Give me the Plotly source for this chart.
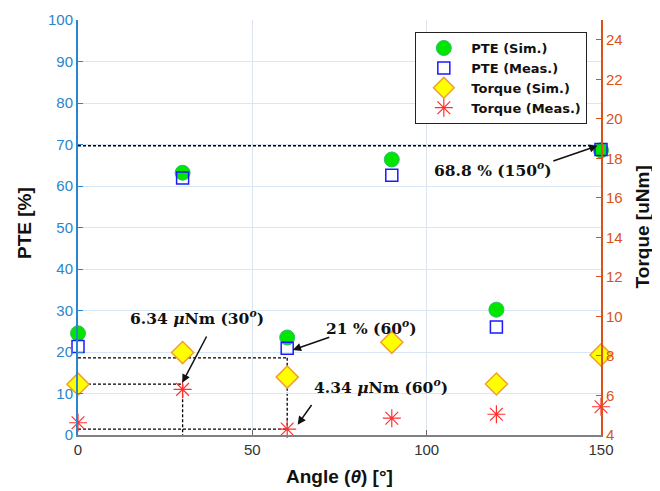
import plotly.graph_objects as go

angles = [0, 30, 60, 90, 120, 150]
pte_sim = [24.5, 63.2, 23.5, 66.4, 30.2, 68.6]
pte_meas = [21.3, 61.9, 20.9, 62.6, 26.0, 68.8]
torque_sim = [6.57, 8.17, 6.93, 8.69, 6.58, 8.05]
torque_meas = [4.62, 6.31, 4.30, 4.85, 5.05, 5.43]

x_ticks = [0, 50, 100, 150]
pte_ticks = [0, 10, 20, 30, 40, 50, 60, 70, 80, 90, 100]
torque_ticks = [4, 6, 8, 10, 12, 14, 16, 18, 20, 22, 24]

# guide lines (x0, x1, y0, y1, axis)
guides = [
    (0, 147.5, 69.7, 69.7, "y"),
    (0, 60, 18.6, 18.6, "y"),
    (60, 60, 7.91, 4.3, "y2"),
    (0, 30, 6.57, 6.57, "y2"),
    (30, 30, 6.57, 4.0, "y2"),
    (0, 60, 4.3, 4.3, "y2"),
]

# annotations: text, text position, arrow tail, arrow head (PTE axis coords)
labels = [
    ("<b>68.8 % (150<sup><i>o</i></sup>)</b>", (119.1, 63.9), (135.9, 65.9), (149.0, 69.7)),
    ("<b>21 % (60<sup><i>o</i></sup>)</b>", (84.1, 25.8), (72.5, 23.7), (61.6, 20.5)),
    ("<b>6.34 <i>μ</i>Nm (30<sup><i>o</i></sup>)</b>", (34.0, 28.2), (37.1, 24.1), (29.9, 12.6)),
    ("<b>4.34 <i>μ</i>Nm (60<sup><i>o</i></sup>)</b>", (86.9, 11.8), (67.3, 7.6), (63.0, 2.5)),
]

blue = "#2a85cc"
orange = "#D95319"

fig = go.Figure()
fig.add_trace(go.Scatter(
    x=angles, y=pte_sim, mode="markers", name="<b>PTE (Sim.)</b>",
    marker=dict(symbol="circle", size=15, color="#00e600", line=dict(color="#33bb66", width=1)),
    cliponaxis=False))
fig.add_trace(go.Scatter(
    x=angles, y=pte_meas, mode="markers", name="<b>PTE (Meas.)</b>",
    marker=dict(symbol="square-open", size=12, color="#1a1aff", line=dict(width=1.5)),
    cliponaxis=False))
fig.add_trace(go.Scatter(
    x=angles, y=torque_sim, mode="markers", name="<b>Torque (Sim.)</b>", yaxis="y2",
    marker=dict(symbol="diamond", size=17, color="#ffff00", line=dict(color="#f0a030", width=1.5)),
    cliponaxis=False))
fig.add_trace(go.Scatter(
    x=angles, y=torque_meas, mode="markers", name="<b>Torque (Meas.)</b>", yaxis="y2",
    marker=dict(symbol="asterisk-open", size=15, color="#ff3030", line=dict(color="#ff3030", width=1.2)),
    cliponaxis=False))

for x0, x1, y0, y1, ax in guides:
    fig.add_shape(type="line", xref="x", yref=ax, x0=x0, x1=x1, y0=y0, y1=y1,
                  line=dict(color="black", width=1.3, dash="3px,2px"), layer="below")

for txt, (tx, ty), (ax_, ay_), (hx, hy) in labels:
    fig.add_annotation(x=tx, y=ty, xref="x", yref="y", text=txt, showarrow=False,
                       xanchor="center", yanchor="middle",
                       font=dict(family="DejaVu Serif", size=15.5, color="#111111"))
    fig.add_annotation(x=hx, y=hy, xref="x", yref="y", ax=ax_, ay=ay_, axref="x", ayref="y",
                       text="", showarrow=True, arrowhead=2, arrowsize=1.1, arrowwidth=1.5,
                       arrowcolor="#111111")

# axis titles
title_font = dict(family="Liberation Sans, Arial", size=19, color="#111111")
fig.add_annotation(x=-0.1023, y=0.512, xref="paper", yref="paper", text="<b>PTE [%]</b>",
                   textangle=-90, showarrow=False, xanchor="center", yanchor="middle", font=title_font)
fig.add_annotation(x=1.079, y=0.501, xref="paper", yref="paper", text="<b>Torque [uNm]</b>",
                   textangle=-90, showarrow=False, xanchor="center", yanchor="middle", font=title_font)
fig.add_annotation(x=0.5, y=-0.099, xref="paper", yref="paper", text="<b>Angle (<i>θ</i>) [°]</b>",
                   showarrow=False, xanchor="center", yanchor="middle", font=title_font)

fig.update_layout(
    width=652, height=483,
    margin=dict(l=70, r=59, t=12, b=56),
    paper_bgcolor="white", plot_bgcolor="white",
    font=dict(family="Liberation Sans, Arial", size=15),
    showlegend=True,
    legend=dict(x=0.645, y=0.971, xanchor="left", yanchor="top",
                bgcolor="white", bordercolor="#222222", borderwidth=1,
                font=dict(family="DejaVu Sans", size=13, color="#111111"),
                itemwidth=45, tracegroupgap=0),
    xaxis=dict(range=[0, 150], tickvals=x_ticks, ticks="inside", ticklen=5, tickcolor="#666666",
               showline=True, linecolor="#808080", linewidth=2, zeroline=False,
               showgrid=True, gridcolor="#dde4ec", gridwidth=1, automargin=False,
               tickfont=dict(size=15, color="#333333")),
    yaxis=dict(range=[0, 100], tickvals=pte_ticks, ticks="inside", ticklen=5, tickcolor=blue,
               showline=True, linecolor=blue, linewidth=2, zeroline=False,
               showgrid=True, gridcolor="#d8e7f3", gridwidth=1, automargin=False,
               tickfont=dict(size=15, color=blue)),
    yaxis2=dict(range=[4, 25], tickvals=torque_ticks, overlaying="y", side="right",
                ticks="inside", ticklen=5, tickcolor=orange,
                showline=True, linecolor=orange, linewidth=2, zeroline=False, showgrid=False,
                automargin=False, tickfont=dict(size=15, color=orange)),
)

fig.write_html("out.html")
